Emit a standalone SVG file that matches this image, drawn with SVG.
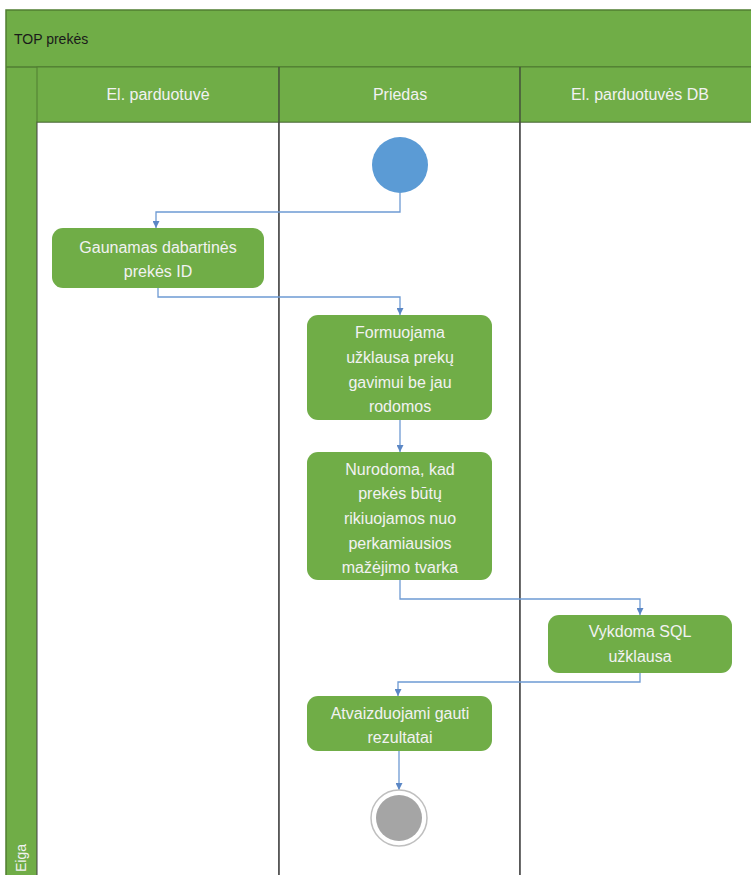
<svg xmlns="http://www.w3.org/2000/svg" width="751" height="875" viewBox="0 0 751 875">
<defs>
<marker id="arr" viewBox="0 0 10 10" refX="10" refY="5" markerWidth="7" markerHeight="7" orient="auto" markerUnits="userSpaceOnUse">
<path d="M0,0 L10,5 L0,10 z" fill="#5B87C5"/>
</marker>
</defs>
<style>
.pool{fill:#70AD47;stroke:#507E32;stroke-width:1.5}
.lane{fill:#ffffff;stroke:#404040;stroke-width:1}
.hdr{fill:#70AD47;stroke:#507E32;stroke-width:1}
.node rect{fill:#70AD47;stroke:none}
.nt{font-family:"Liberation Sans",Arial,sans-serif;font-size:16px;fill:#F2F2F2;text-anchor:middle}
.ht{font-family:"Liberation Sans",Arial,sans-serif;font-size:16px;fill:#F2F2F2;text-anchor:middle}
.conn path{fill:none;stroke:#6E9AD3;stroke-width:1.3;marker-end:url(#arr)}
</style>
<rect width="751" height="875" fill="#ffffff"/>
<g id="pool">
<rect class="pool" x="6" y="10" width="760" height="880"/>
<text x="14" y="44" font-family="Liberation Sans, Arial, sans-serif" font-size="14" fill="#1a1a1a">TOP prekės</text>
<line x1="6" y1="67" x2="760" y2="67" stroke="#507E32" stroke-width="1.5"/>
<text transform="translate(26,872) rotate(-90)" font-family="Liberation Sans, Arial, sans-serif" font-size="14" fill="#F2F2F2">Eiga</text>
</g>
<g id="lanes">
<rect class="lane" x="37" y="122" width="242" height="770"/>
<rect class="lane" x="279" y="122" width="241" height="770"/>
<rect class="lane" x="520" y="122" width="250" height="770"/>
<rect class="hdr" x="37" y="67" width="242" height="55"/>
<rect class="hdr" x="279" y="67" width="241" height="55"/>
<rect class="hdr" x="520" y="67" width="250" height="55"/>
<line x1="279" y1="67" x2="279" y2="875" stroke="#404040" stroke-width="1"/>
<line x1="520" y1="67" x2="520" y2="875" stroke="#404040" stroke-width="1"/>
<text class="ht" x="158" y="100">El. parduotuvė</text>
<text class="ht" x="400" y="100">Priedas</text>
<text class="ht" x="640" y="100">El. parduotuvės DB</text>
</g>
<g class="conn" id="connectors">
<path d="M400,193 V212 H156 V228"/>
<path d="M158,288 V297 H400 V315"/>
<path d="M400,420 V452"/>
<path d="M400,580 V599 H640 V615"/>
<path d="M640,673 V682 H398 V696"/>
<path d="M399,751 V790"/>
</g>
<g id="start">
<circle cx="400" cy="165" r="28" fill="#5B9BD5"/>
</g>
<g id="n1" class="node">
<rect x="52" y="228" width="212" height="60" rx="11"/>
<text class="nt" x="158" y="253">Gaunamas dabartinės</text>
<text class="nt" x="158" y="277">prekės ID</text>
</g>
<g id="n2" class="node">
<rect x="307" y="315" width="185" height="105" rx="11"/>
<text class="nt" x="400" y="338">Formuojama</text>
<text class="nt" x="400" y="363">užklausa prekų</text>
<text class="nt" x="400" y="388">gavimui be jau</text>
<text class="nt" x="400" y="412">rodomos</text>
</g>
<g id="n3" class="node">
<rect x="307" y="452" width="185" height="128" rx="11"/>
<text class="nt" x="400" y="475">Nurodoma, kad</text>
<text class="nt" x="400" y="499">prekės būtų</text>
<text class="nt" x="400" y="524">rikiuojamos nuo</text>
<text class="nt" x="400" y="549">perkamiausios</text>
<text class="nt" x="400" y="573">mažėjimo tvarka</text>
</g>
<g id="n4" class="node">
<rect x="548" y="615" width="184" height="58" rx="11"/>
<text class="nt" x="640" y="637">Vykdoma SQL</text>
<text class="nt" x="640" y="662">užklausa</text>
</g>
<g id="n5" class="node">
<rect x="307" y="696" width="185" height="55" rx="11"/>
<text class="nt" x="400" y="719">Atvaizduojami gauti</text>
<text class="nt" x="400" y="743">rezultatai</text>
</g>
<g id="end">
<circle cx="399" cy="818" r="28" fill="#ffffff" stroke="#BFBFBF" stroke-width="1.5"/>
<circle cx="399" cy="818" r="23" fill="#A5A5A5"/>
</g>
</svg>
